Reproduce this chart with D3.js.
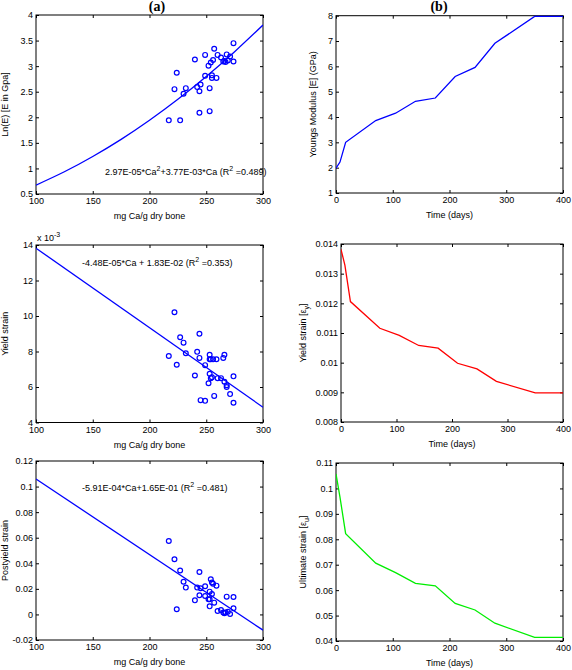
<!DOCTYPE html>
<html><head><meta charset="utf-8">
<script src="https://cdn.jsdelivr.net/npm/d3@7"></script>
<style>body{margin:0;background:#fff}svg{display:block;font-family:"Liberation Sans",Arial,sans-serif}</style>
</head><body><svg id="c" width="572" height="670"></svg>
<script>
// ---- data ----
const caTop = [217,227,224,222,230,232,240,242,244,245,244,249,249,252,253,253,254,255,255,256,257,259,260,263,265,266,267,268,269,271,274,274];
const lnE   = [1.94,1.94,2.87,2.55,2.46,2.57,3.13,2.59,2.51,2.64,2.09,3.22,2.81,3.01,2.57,2.12,3.07,2.82,2.77,3.12,3.34,2.77,3.22,3.17,3.09,3.10,3.08,3.23,3.11,3.19,3.45,3.09];
const fitCaTop = [100,125,150,175,200,225,250,275,300];
const fitLnE   = [0.674,0.935,1.234,1.569,1.942,2.352,2.799,3.283,3.804];

const caMid = [222,227,230,217,224,232,244,242,244,240,249,253,253,254,256,259,265,266,253,254,255,252,260,263,266,268,268,274,271,257,245,249,274];
const yieldStrain = [10.21,8.8,8.5,7.75,7.25,7.9,9.0,7.98,7.64,6.65,7.23,7.81,7.56,7.56,7.56,7.56,7.64,7.81,6.74,6.5,6.55,6.21,6.5,6.5,6.3,6.1,6.0,6.6,5.6,5.5,5.26,5.22,5.11];
const fitCaMid = [100,300];
const fitYield = [13.82,4.86];

const caBot = [217,222,227,230,232,224,240,242,244,244,245,249,249,252,253,253,253,254,255,256,255,257,259,260,263,265,266,267,268,269,271,274,274];
const postyield = [0.0574,0.0431,0.0343,0.0256,0.021,0.004,0.011,0.021,0.0332,0.015,0.0205,0.022,0.0144,0.0118,0.0178,0.0118,0.0063,0.0275,0.025,0.024,0.016,0.0092,0.0225,0.0027,0.0035,0.0015,0.0010,0.0015,0.0139,0.0020,0.0003,0.0136,0.0048];
const fitCaBot = [100,300];
const fitPost = [0.1059,-0.0123];

const days = [0,7,17,70,105,140,175,210,245,280,350,400];
const youngs = [1.98,2.22,3.0,3.86,4.15,4.62,4.75,5.6,5.96,6.91,7.97,7.97];
const yieldTime = [0.01382,0.01329,0.01206,0.01116,0.01092,0.01058,0.01049,0.00998,0.00979,0.00937,0.00898,0.00898];
const ultimate = [0.1057,0.0966,0.0822,0.0706,0.0669,0.0627,0.0617,0.0548,0.0522,0.0470,0.0414,0.0414];

const ticksTopL = [0.5,1,1.5,2,2.5,3,3.5,4];
const ticksMidL = [4,6,8,10,12,14];
const ticksBotL = [-0.02,0,0.02,0.04,0.06,0.08,0.1,0.12];
const ticksCa = [100,150,200,250,300];
const ticksDays = [0,100,200,300,400];
const ticksTopR = [1,2,3,4,5,6,7,8];
const ticksMidR = [0.008,0.009,0.01,0.011,0.012,0.013,0.014];
const ticksBotR = [0.04,0.05,0.06,0.07,0.08,0.09,0.1,0.11];

// ---- drawing ----
const svg = d3.select("#c");
const fmt = d => String(+d.toFixed(6));

function panel(o){
  const x = d3.scaleLinear().domain(o.xd).range([o.x0,o.x1]);
  const y = d3.scaleLinear().domain(o.yd).range([o.y1,o.y0]);
  const g = svg.append("g");
  const ax = (gen, tr) => {
    const a = g.append("g").attr("transform",tr).call(gen);
    a.select(".domain").remove();
    a.selectAll("line").attr("stroke","#000");
    a.selectAll("text").attr("font-size",9).attr("fill","#000");
    return a;
  };
  ax(d3.axisBottom(x).tickValues(o.xt).tickSizeInner(-3).tickPadding(4).tickFormat(fmt), `translate(0,${o.y1})`);
  ax(d3.axisTop(x).tickValues(o.xt).tickSizeInner(-3).tickFormat(""), `translate(0,${o.y0})`);
  ax(d3.axisLeft(y).tickValues(o.yt).tickSizeInner(-3).tickPadding(3).tickFormat(fmt), `translate(${o.x0},0)`);
  ax(d3.axisRight(y).tickValues(o.yt).tickSizeInner(-3).tickFormat(""), `translate(${o.x1},0)`);
  g.append("rect").attr("x",o.x0).attr("y",o.y0).attr("width",o.x1-o.x0).attr("height",o.y1-o.y0)
    .attr("fill","none").attr("stroke","#000").attr("stroke-width",1);
  const clipId = "clip"+Math.round(o.x0)+"_"+Math.round(o.y0);
  svg.append("clipPath").attr("id",clipId).append("rect").attr("x",o.x0).attr("y",o.y0-1).attr("width",o.x1-o.x0).attr("height",o.y1-o.y0+2);
  if(o.line){
    const pts = o.line.x.map((v,i)=>[v,o.line.y[i]]);
    g.append("path").attr("clip-path",`url(#${clipId})`).datum(pts)
      .attr("d", d3.line().x(d=>x(d[0])).y(d=>y(d[1])).curve(o.line.curve||d3.curveLinear))
      .attr("fill","none").attr("stroke",o.line.color).attr("stroke-width",1.3);
  }
  if(o.pts){
    g.selectAll("circle.p").data(o.pts.x.map((v,i)=>[v,o.pts.y[i]])).join("circle")
      .attr("cx",d=>x(d[0])).attr("cy",d=>y(d[1])).attr("r",2.4)
      .attr("fill","none").attr("stroke","#0000ff").attr("stroke-width",1.2);
  }
  g.append("text").attr("x",(o.x0+o.x1)/2).attr("y",o.y1+25).attr("text-anchor","middle")
    .attr("font-size",9).text(o.xl);
  const yl = g.append("text").attr("transform",`translate(${o.ylx},${(o.y0+o.y1)/2}) rotate(-90)`)
    .attr("text-anchor","middle").attr("font-size",9);
  o.yl(yl);
  return {x,y,g};
}

// (a) top
const pA = panel({x0:36,x1:263,y0:15,y1:194,xd:[100,300],yd:[0.5,4],xt:ticksCa,yt:ticksTopL,
  xl:"mg Ca/g dry bone", ylx:8, yl:t=>t.text("Ln(E) [E in Gpa]"),
  line:{x:fitCaTop,y:fitLnE,color:"#0000ff",curve:d3.curveNatural}, pts:{x:caTop,y:lnE}});
{
  const t = pA.g.append("text").attr("x",105).attr("y",175).attr("font-size",9);
  t.append("tspan").text("2.97E-05*Ca");
  t.append("tspan").attr("dy",-4).attr("font-size",7).text("2");
  t.append("tspan").attr("dy",4).text("+3.77E-03*Ca (R");
  t.append("tspan").attr("dy",-4).attr("font-size",7).text("2");
  t.append("tspan").attr("dy",4).text(" =0.489)");
}
// (a) middle
const pB = panel({x0:36,x1:263,y0:245,y1:422.5,xd:[100,300],yd:[4,14],xt:ticksCa,yt:ticksMidL,
  xl:"mg Ca/g dry bone", ylx:8, yl:t=>t.text("Yield strain"),
  line:{x:fitCaMid,y:fitYield,color:"#0000ff"}, pts:{x:caMid,y:yieldStrain}});
{
  const t = pB.g.append("text").attr("x",37).attr("y",241).attr("font-size",9);
  t.append("tspan").text("x 10");
  t.append("tspan").attr("dy",-4).attr("font-size",7).text("-3");
  const u = pB.g.append("text").attr("x",82).attr("y",266).attr("font-size",9);
  u.append("tspan").text("-4.48E-05*Ca + 1.83E-02 (R");
  u.append("tspan").attr("dy",-4).attr("font-size",7).text("2");
  u.append("tspan").attr("dy",4).text(" =0.353)");
}
// (a) bottom
const pC = panel({x0:36,x1:263,y0:461,y1:640,xd:[100,300],yd:[-0.02,0.12],xt:ticksCa,yt:ticksBotL,
  xl:"mg Ca/g dry bone", ylx:8, yl:t=>t.text("Postyield strain"),
  line:{x:fitCaBot,y:fitPost,color:"#0000ff"}, pts:{x:caBot,y:postyield}});
{
  const u = pC.g.append("text").attr("x",82).attr("y",491).attr("font-size",9);
  u.append("tspan").text("-5.91E-04*Ca+1.65E-01 (R");
  u.append("tspan").attr("dy",-4).attr("font-size",7).text("2");
  u.append("tspan").attr("dy",4).text(" =0.481)");
}
// (b) top
panel({x0:336,x1:563,y0:15.7,y1:193,xd:[0,400],yd:[1,8],xt:ticksDays,yt:ticksTopR,
  xl:"Time (days)", ylx:316, yl:t=>t.text("Youngs Modulus [E] (GPa)"),
  line:{x:days,y:youngs,color:"#0000ff"}});
// (b) middle
panel({x0:341,x1:563,y0:244,y1:422,xd:[0,400],yd:[0.008,0.014],xt:ticksDays,yt:ticksMidR,
  xl:"Time (days)", ylx:306, yl:t=>{t.append("tspan").text("Yield strain [\u03b5");
    t.append("tspan").attr("dy",3).attr("font-size",7).text("y");
    t.append("tspan").attr("dy",-3).text("]");},
  line:{x:days,y:yieldTime,color:"#ff0000"}});
// (b) bottom
panel({x0:336,x1:563,y0:463,y1:641,xd:[0,400],yd:[0.04,0.11],xt:ticksDays,yt:ticksBotR,
  xl:"Time (days)", ylx:306, yl:t=>{t.append("tspan").text("Ultimate strain [\u03b5");
    t.append("tspan").attr("dy",3).attr("font-size",7).text("u");
    t.append("tspan").attr("dy",-3).text("]");},
  line:{x:days,y:ultimate,color:"#00ee00"}});

// panel titles
svg.append("text").attr("x",157).attr("y",11).attr("text-anchor","middle")
  .attr("font-family","'Liberation Serif','Times New Roman',serif").attr("font-weight","bold").attr("font-size",14).text("(a)");
svg.append("text").attr("x",439).attr("y",11).attr("text-anchor","middle")
  .attr("font-family","'Liberation Serif','Times New Roman',serif").attr("font-weight","bold").attr("font-size",14).text("(b)");
</script></body></html>
